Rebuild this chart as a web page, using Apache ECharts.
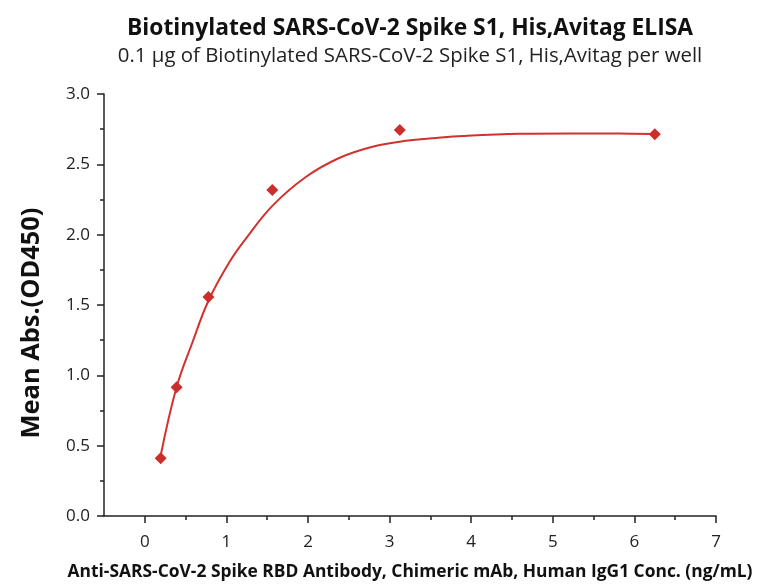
<!DOCTYPE html>
<html>
<head>
<meta charset="utf-8">
<script src="https://cdn.jsdelivr.net/npm/echarts@6/dist/echarts.min.js"></script>
<style>
  html, body { margin: 0; padding: 0; background: #fff; }
  #main { width: 763px; height: 587px; }
</style>
</head>
<body>
<div id="main"></div>
<script>
// measured points (conc ng/mL, OD450)
const concs = [0.195, 0.39, 0.78, 1.5625, 3.125, 6.25]
const means = [0.41, 0.915, 1.557, 2.317, 2.744, 2.713]
// fitted curve
const fitX = [0.195, 0.389, 0.581, 0.78, 1.032, 1.237, 1.563, 1.973, 2.382, 2.791, 3.2, 3.57, 3.897, 4.593, 5.207, 5.82, 6.25]
const fitY = [0.43, 0.915, 1.23, 1.53, 1.80, 1.97, 2.205, 2.41, 2.545, 2.625, 2.667, 2.687, 2.701, 2.717, 2.72, 2.719, 2.716]
const xMajor = [0, 1, 2, 3, 4, 5, 6, 7]
const xMinor = [0.5, 1.5, 2.5, 3.5, 4.5, 5.5, 6.5]

const font = 'Open Sans'
const axisColor = '#222'
const red = '#d2322e'

const chart = echarts.init(document.getElementById('main'))
chart.setOption({
  animation: false,
  backgroundColor: '#fff',
  textStyle: { fontFamily: font },
  title: {
    text: 'Biotinylated SARS-CoV-2 Spike S1, His,Avitag ELISA',
    subtext: '0.1 μg of Biotinylated SARS-CoV-2 Spike S1, His,Avitag per well',
    left: 405,
    textAlign: 'center',
    top: 12,
    itemGap: 6,
    textStyle: { fontFamily: font, fontSize: 22.8, fontWeight: 'bold', color: '#111' },
    subtextStyle: { fontFamily: font, fontSize: 20.4, color: '#222' },
  },
  grid: { left: 104, right: 47, top: 94, bottom: 71 },
  xAxis: [
    {
      type: 'value',
      min: -0.5,
      max: 7,
      splitLine: { show: false },
      axisLine: { onZero: false, lineStyle: { color: axisColor, width: 1.5 } },
      axisTick: { customValues: xMajor, length: 7, lineStyle: { color: axisColor, width: 1.5 } },
      axisLabel: { customValues: xMajor, margin: 18, fontSize: 17, color: axisColor, fontFamily: font },
      name: 'Anti-SARS-CoV-2 Spike RBD Antibody, Chimeric mAb, Human IgG1 Conc. (ng/mL)',
      nameLocation: 'middle',
      nameGap: 48,
      nameTextStyle: { fontFamily: font, fontSize: 17.4, fontWeight: 'bold', color: '#111' },
    },
    {
      type: 'value',
      min: -0.5,
      max: 7,
      position: 'bottom',
      splitLine: { show: false },
      axisLine: { show: false, onZero: false },
      axisLabel: { show: false },
      axisTick: { customValues: xMinor, length: 4, lineStyle: { color: axisColor, width: 1.5 } },
    },
  ],
  yAxis: {
    type: 'value',
    min: 0,
    max: 3,
    interval: 0.5,
    splitLine: { show: false },
    axisLine: { show: true, onZero: false, lineStyle: { color: axisColor, width: 1.5 } },
    axisTick: { show: true, length: 7, lineStyle: { color: axisColor, width: 1.5 } },
    minorTick: { show: true, splitNumber: 2, length: 4, lineStyle: { color: axisColor, width: 1.5 } },
    axisLabel: { margin: 14, fontSize: 17, color: axisColor, fontFamily: font, formatter: v => v.toFixed(1) },
    name: 'Mean Abs.(OD450)',
    nameLocation: 'middle',
    nameGap: 60,
    nameTextStyle: { fontFamily: font, fontSize: 25.4, fontWeight: 'bold', color: '#111', padding: [0, 36, 0, 0] },
  },
  series: [
    {
      name: 'fit',
      type: 'line',
      smooth: 0.4,
      showSymbol: false,
      data: fitX.map((x, i) => [x, fitY[i]]),
      lineStyle: { color: red, width: 2 },
      z: 2,
    },
    {
      name: 'mean',
      type: 'scatter',
      symbol: 'diamond',
      symbolSize: 12,
      data: concs.map((x, i) => [x, means[i]]),
      itemStyle: { color: '#cc2f2b', opacity: 1 },
      z: 3,
    },
  ],
})
</script>
</body>
</html>
